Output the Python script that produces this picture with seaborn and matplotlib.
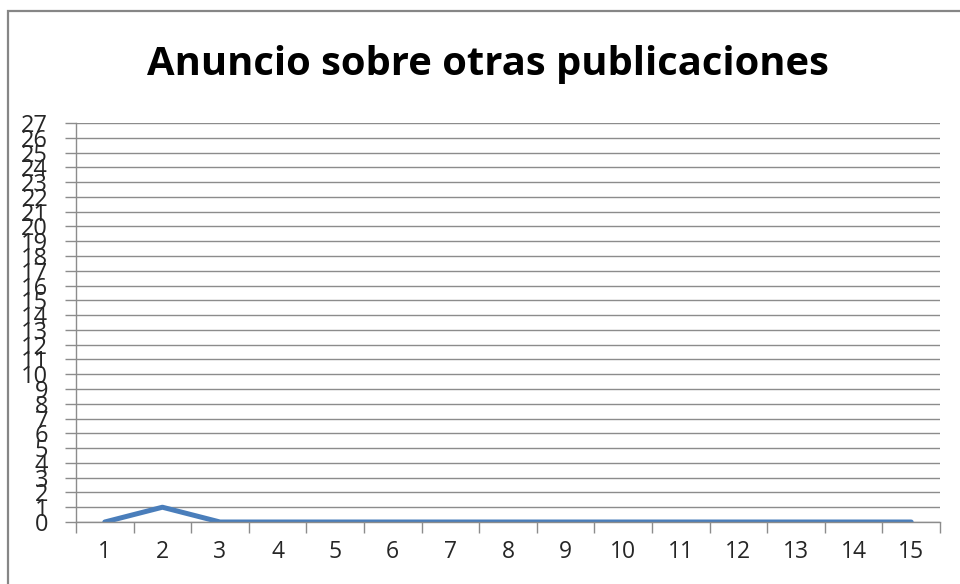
import matplotlib
matplotlib.use('Agg')
import matplotlib.pyplot as plt
import seaborn as sns
import pandas as pd
from matplotlib.patches import Rectangle

# datos
semanas = list(range(1, 16))
anuncios = [0, 1, 0, 0, 0, 0, 0, 0, 0, 0, 0, 0, 0, 0, 0]
y_ticks = list(range(0, 28))

df = pd.DataFrame({'Semana': semanas, 'Anuncios': anuncios})

sns.set_style('white')
plt.rcParams['font.family'] = ['Open Sans', 'DejaVu Sans']

fig = plt.figure(figsize=(9.6, 5.84), dpi=100)
ax = fig.add_axes([76 / 960, 1 - 522 / 584, (940 - 76) / 960, (522 - 123) / 584])

sns.lineplot(data=df, x='Semana', y='Anuncios', ax=ax, color='#4A7EBB', linewidth=3.6)

grid_color = '#8C8C8C'
ax.set_xlim(0.5, 15.5)
ax.set_ylim(0, 27)
ax.set_yticks(y_ticks)
ax.set_yticklabels([str(v) for v in y_ticks], fontsize=17)
ax.set_xticks(semanas)
ax.set_xticklabels([str(v) for v in semanas], fontsize=16.5)
ax.yaxis.grid(True, color=grid_color, linewidth=1)
ax.set_axisbelow(True)

# marcas del eje x entre categorias
ax.set_xticks([v + 0.5 for v in [0] + semanas], minor=True)
ax.tick_params(axis='x', which='major', length=0, pad=13)
ax.tick_params(axis='x', which='minor', length=8, color=grid_color, width=1, direction='out', bottom=True)
ax.tick_params(axis='y', which='major', length=8, color=grid_color, width=1, direction='out', left=True, pad=12)

for s in ['top', 'right']:
    ax.spines[s].set_visible(False)
for s in ['left', 'bottom']:
    ax.spines[s].set_color(grid_color)
    ax.spines[s].set_linewidth(1)

ax.set_xlabel('')
ax.set_ylabel('')

fig.text(488 / 960, 1 - 64 / 584, 'Anuncio sobre otras publicaciones', ha='center', va='center',
         fontsize=28.8, fontweight='bold', color='black')

# marco exterior
fig.patches.append(Rectangle((8 / 960, -0.1), 1.1, 1 - 11 / 584 + 0.1, transform=fig.transFigure,
                             fill=False, edgecolor='#868686', linewidth=1.6))

fig.savefig('out.png', dpi=100)
